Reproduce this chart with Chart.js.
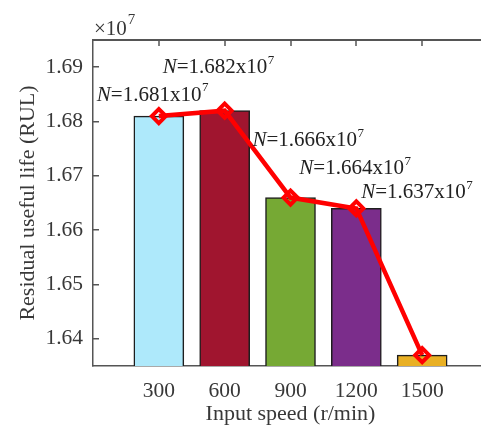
<!DOCTYPE html>
<html><head><meta charset="utf-8">
<script src="https://cdn.jsdelivr.net/npm/chart.js@4.4.1/dist/chart.umd.min.js"></script>
<style>html,body{margin:0;padding:0;background:#fff;overflow:hidden}#wrap{width:500px;height:427px;position:relative}</style>
</head><body><div id="wrap"><canvas id="c"></canvas></div>
<script>
// Data (RUL in units of 10^7)
const speeds = ['300', '600', '900', '1200', '1500'];
const rulValues = [1.681, 1.682, 1.666, 1.664, 1.637];
const annotationTexts = ['1.681', '1.682', '1.666', '1.664', '1.637'];
const yTickValues = [1.64, 1.65, 1.66, 1.67, 1.68, 1.69];
const barColors = ['#aee9fb', '#a0152f', '#76a934', '#7b2d8b', '#e9b024'];

const labels = [''].concat(speeds, ['']);
const paddedValues = [null].concat(rulValues, [null]);
const paddedColors = ['#ffffff'].concat(barColors, ['#ffffff']);

const SERIF = "'Liberation Serif', 'Times New Roman', serif";
const AXIS = '#555555';
const TXT = '#383838';

// label placement relative to the marker (pixels)
const annOffsets = [[-62, -21], [-62, -43], [-38, -57], [-57, -40], [-61, -163]];

const framePlugin = {
  id: 'topframe',
  afterDraw(chart) {
    const ctx = chart.ctx;
    const a = chart.chartArea;
    const xs = chart.scales.x;
    const top = Math.round(a.top);
    ctx.save();
    ctx.globalAlpha = 1;
    ctx.globalCompositeOperation = 'source-over';
    ctx.fillStyle = '#555555';
    ctx.fillRect(a.left - 0.75, top - 1, a.right - a.left + 2, 2);
    for (let i = 1; i < labels.length; i++) {
      const px = Math.round(xs.getPixelForValue(i));
      ctx.fillRect(px - 0.75, top, 1.5, 6);
    }
    ctx.restore();
  }
};

const annotPlugin = {
  id: 'annot',
  afterDatasetsDraw(chart) {
    const ctx = chart.ctx;
    const meta = chart.getDatasetMeta(1);
    ctx.save();
    ctx.fillStyle = '#222';
    ctx.textBaseline = 'middle';
    ctx.textAlign = 'left';
    for (let i = 0; i < rulValues.length; i++) {
      const pt = meta.data[i + 1];
      const off = annOffsets[i];
      let x = pt.x + off[0];
      const y = pt.y + off[1];
      ctx.font = 'italic 21px ' + SERIF;
      ctx.fillText('N', x, y);
      x += ctx.measureText('N').width;
      ctx.font = '21px ' + SERIF;
      const s = '=' + annotationTexts[i] + 'x10';
      ctx.fillText(s, x, y);
      x += ctx.measureText(s).width;
      ctx.font = '13px ' + SERIF;
      ctx.fillText('7', x + 0.5, y - 7);
    }
    // ×10^7 exponent label
    const a = chart.chartArea;
    ctx.fillStyle = TXT;
    ctx.textBaseline = 'alphabetic';
    ctx.font = '21px ' + SERIF;
    ctx.fillText('\u00d710', a.left + 1, a.top - 5);
    const w = ctx.measureText('\u00d710').width;
    ctx.font = '15px ' + SERIF;
    ctx.fillText('7', a.left + 1 + w + 1, a.top - 16);
    ctx.restore();
  }
};

new Chart(document.getElementById('c'), {
  data: {
    labels: labels,
    datasets: [
      {
        type: 'bar',
        data: paddedValues,
        backgroundColor: paddedColors,
        borderColor: '#1e1e1e',
        borderWidth: 1.5,
        barThickness: 50,
        order: 2
      },
      {
        type: 'line',
        data: paddedValues,
        borderColor: '#ff0000',
        borderWidth: 4.5,
        pointStyle: 'rectRot',
        pointRadius: 7,
        pointBorderWidth: 4,
        pointBorderColor: '#ff0000',
        pointBackgroundColor: 'rgba(0,0,0,0)',
        order: 1
      }
    ]
  },
  options: {
    responsive: true,
    maintainAspectRatio: false,
    animation: false,
    layout: { padding: { left: 0, top: 40, right: 11, bottom: 0 } },
    plugins: { legend: { display: false }, tooltip: { enabled: false } },
    scales: {
      x: {
        type: 'category',
        position: 'bottom',
        offset: false,
        grid: { drawOnChartArea: false, drawTicks: false },
        border: { color: AXIS, width: 1.5 },
        ticks: { color: TXT, font: { family: SERIF, size: 21.5 }, padding: 12, autoSkip: false, maxRotation: 0 },
        title: { display: true, text: 'Input speed (r/min)', color: TXT, font: { family: SERIF, size: 22 }, padding: { top: 0, bottom: 0 } },
        afterFit(s) { s.height = 61; }
      },
      y: {
        type: 'linear',
        position: 'left',
        min: 1.635,
        max: 1.695,
        grid: { drawOnChartArea: false, tickLength: -6, color: AXIS, lineWidth: 1.5 },
        border: { color: AXIS, width: 1.5 },
        ticks: { color: TXT, font: { family: SERIF, size: 21.5 }, padding: 16, callback: v => v.toFixed(2) },
        afterBuildTicks(s) { s.ticks = yTickValues.map(v => ({ value: v })); },
        title: { display: true, text: 'Residual useful life (RUL)', color: TXT, font: { family: SERIF, size: 22 }, padding: { top: 15, bottom: 0 } },
        afterFit(s) { s.width = 93; }
      }
    }
  },
  plugins: [framePlugin, annotPlugin]
});
</script>
</body></html>
